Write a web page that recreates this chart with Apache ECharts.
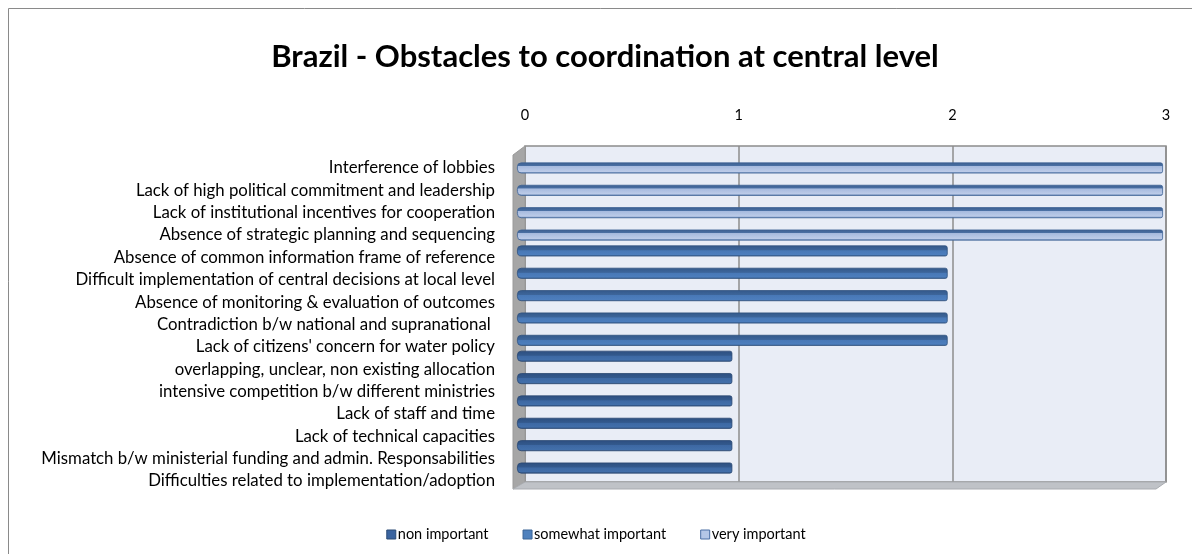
<!DOCTYPE html>
<html>
<head>
<meta charset="utf-8">
<script src="https://cdn.jsdelivr.net/npm/echarts@6/dist/echarts.min.js"></script>
<style>
  html, body { margin: 0; padding: 0; background: #ffffff; }
  #chart { width: 1192px; height: 554px; }
</style>
</head>
<body>
<div id="chart"></div>
<script>
// Obstacles, listed top to bottom
const categories = [
  'Interference of lobbies',
  'Lack of high political commitment and leadership',
  'Lack of institutional incentives for cooperation',
  'Absence of strategic planning and sequencing',
  'Absence of common information frame of reference',
  'Difficult implementation of central decisions at local level',
  'Absence of monitoring & evaluation of outcomes',
  'Contradiction b/w national and supranational ',
  "Lack of citizens' concern for water policy",
  'overlapping, unclear, non existing allocation',
  'intensive competition b/w different ministries',
  'Lack of staff and time',
  'Lack of technical capacities',
  'Mismatch b/w ministerial funding and admin. Responsabilities',
  'Difficulties related to implementation/adoption'
];

// Rating per obstacle (null = not given for that level)
const nonImportant      = [null, null, null, null, null, null, null, null, null, 1, 1, 1, 1, 1, 1];
const somewhatImportant = [null, null, null, null, 2, 2, 2, 2, 2, null, null, null, null, null, null];
const veryImportant     = [3, 3, 3, 3, null, null, null, null, null, null, null, null, null, null, null];

const seriesNames = ['non important', 'somewhat important', 'very important'];
const valueTicks = [0, 1, 2, 3];

const FONT = 'Lato, "Open Sans", sans-serif';

// Shaded fill giving the bars a bevelled, 3D look
function barFill(stops) {
  return new echarts.graphic.LinearGradient(0, 0, 0, 1,
    stops.map(s => ({ offset: s[0], color: s[1] })));
}

const styles = [
  {
    fill: barFill([[0, '#2d4f80'], [0.42, '#33598d'], [0.48, '#3d68a3'], [0.85, '#426faa'], [1, '#2a4873']]),
    border: '#2a4872', legend: '#3a64a0', legendBorder: '#2b4a74'
  },
  {
    fill: barFill([[0, '#34598a'], [0.42, '#3d659a'], [0.48, '#4878b6'], [0.85, '#4d7ebd'], [1, '#315481']]),
    border: '#30527f', legend: '#4f81bd', legendBorder: '#3b6496'
  },
  {
    fill: barFill([[0, '#3a5e8f'], [0.3, '#4a6fa3'], [0.36, '#a6bade'], [0.82, '#bccbe8'], [1, '#4d72a6']]),
    border: '#3f6396', legend: '#b4c6e7', legendBorder: '#4a6fa5'
  }
];

const dataSets = [nonImportant, somewhatImportant, veryImportant];

const chart = echarts.init(document.getElementById('chart'), null, { renderer: 'canvas' });

const option = {
  animation: false,
  backgroundColor: '#ffffff',
  title: {
    text: 'Brazil - Obstacles to coordination at central level',
    left: 600,
    textAlign: 'center',
    top: 36,
    textStyle: { fontFamily: FONT, fontWeight: 'bold', fontSize: 31, color: '#000000' }
  },
  legend: {
    bottom: 7,
    left: 'center',
    itemWidth: 9,
    itemHeight: 9,
    itemGap: 34,
    icon: 'rect',
    textStyle: { fontFamily: FONT, fontSize: 14.5, color: '#000000', padding: [0, 0, 0, -3] },
    data: seriesNames.map((n, i) => ({
      name: n,
      itemStyle: { color: styles[i].legend, borderColor: styles[i].legendBorder, borderWidth: 1 }
    }))
  },
  graphic: [
    // chart frame
    { type: 'rect', z: -10, shape: { x: 8.5, y: 8.5, width: 1200, height: 560 },
      style: { fill: 'none', stroke: '#8a8a8a', lineWidth: 1 } },
    // side wall
    { type: 'polygon', z: 1, shape: { points: [[513, 155], [525, 146], [525, 482], [513, 489]] },
      style: { fill: '#a6a6a6', stroke: '#9a9a9a', lineWidth: 1 } },
    // floor
    { type: 'polygon', z: 1, shape: { points: [[513, 489], [525, 482], [1166, 482], [1156, 489]] },
      style: { fill: '#bfc2c7', stroke: '#a9acb1', lineWidth: 1 } }
  ],
  grid: [
    // back wall carrying the value grid
    { left: 525, top: 146, width: 641, height: 336, show: true,
      backgroundColor: '#e9edf6', borderColor: '#8c8c8c', borderWidth: 1.5, containLabel: false },
    // bars standing in front of the wall
    { left: 517, top: 150.3, width: 646, height: 335.4, containLabel: false }
  ],
  xAxis: [
    {
      gridIndex: 0, type: 'value', position: 'top',
      min: valueTicks[0], max: valueTicks[valueTicks.length - 1], interval: 1,
      axisLine: { show: false }, axisTick: { show: false },
      axisLabel: { margin: 23, fontFamily: FONT, fontSize: 14.5, color: '#000000',
        formatter: v => valueTicks.includes(v) ? String(v) : '' },
      splitLine: { show: true, lineStyle: { color: '#8c8c8c', width: 1.5 } }
    },
    {
      gridIndex: 1, type: 'value',
      min: valueTicks[0], max: valueTicks[valueTicks.length - 1], interval: 1,
      show: false, splitLine: { show: false }
    }
  ],
  yAxis: [
    { gridIndex: 0, type: 'category', data: categories, inverse: true, show: false },
    {
      gridIndex: 1, type: 'category', data: categories, inverse: true,
      axisLine: { show: false }, axisTick: { show: false },
      axisLabel: {
        margin: 22, fontFamily: FONT, fontSize: 16.8, color: '#000000',
        verticalAlign: 'top', lineHeight: 13, interval: 0
      }
    }
  ],
  series: dataSets.map((d, i) => ({
    name: seriesNames[i],
    type: 'bar',
    xAxisIndex: 1,
    yAxisIndex: 1,
    data: d,
    barWidth: 11,
    barGap: '-41%',
    z: 5,
    itemStyle: {
      color: styles[i].fill,
      borderColor: styles[i].border,
      borderWidth: 0.8,
      borderRadius: [4, 2, 2, 4]
    }
  }))
};

chart.setOption(option);
</script>
</body>
</html>
